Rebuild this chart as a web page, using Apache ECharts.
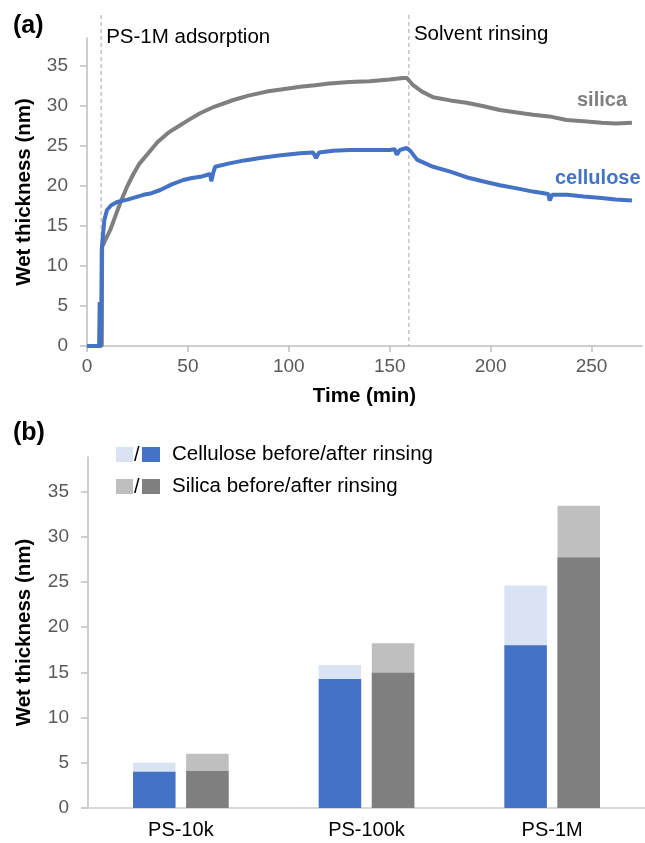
<!DOCTYPE html>
<html>
<head>
<meta charset="utf-8">
<script src="https://cdn.jsdelivr.net/npm/echarts@6/dist/echarts.min.js"></script>
<style>
  html, body { margin: 0; padding: 0; background: #fff; }
  #chart { width: 645px; height: 843px; }
</style>
</head>
<body>
<div id="chart"></div>
<script>
// (a) time trace
const silicaTime = [0, 7.3, 7.5, 9, 11.5, 14, 16.5, 20, 23, 26, 29.7, 35, 40, 43, 50, 56, 63, 72.5, 80, 89, 97, 105.6, 113, 120, 130, 140, 150, 156.6, 158.5, 161.6, 166, 171.5, 180, 188, 196, 204.6, 213, 221, 229, 237.7, 246, 255, 262, 270];
const silicaThk  = [0, 0, 12.4, 13.2, 14.5, 16.2, 17.9, 20.0, 21.5, 22.8, 23.9, 25.5, 26.6, 27.1, 28.2, 29.1, 29.9, 30.75, 31.3, 31.8, 32.1, 32.4, 32.6, 32.8, 33.0, 33.1, 33.3, 33.5, 33.5, 32.6, 31.8, 31.1, 30.7, 30.4, 30.0, 29.5, 29.2, 28.9, 28.7, 28.25, 28.1, 27.9, 27.8, 27.9];

const celluloseTime = [0, 6.0, 6.3, 6.6, 7.0, 7.3, 7.8, 8.6, 9.9, 12, 14.9, 20, 28, 32, 36.3, 42, 47.7, 52, 57, 61, 61.6, 62.5, 63.5, 70, 78, 85.8, 95, 105.6, 112, 113.5, 115, 122, 130, 140, 150, 152.5, 153.5, 155, 158.5, 160.5, 163.5, 171.5, 180, 188, 196, 204.6, 213, 221, 228.5, 229.3, 230.5, 238, 246, 255, 262, 270];
const celluloseThk  = [0, 0, 5.5, 0, 0.5, 12.0, 13.5, 15.75, 17.0, 17.6, 18.0, 18.3, 18.9, 19.1, 19.5, 20.2, 20.75, 21.0, 21.2, 21.5, 20.6, 21.6, 22.4, 22.8, 23.2, 23.5, 23.8, 24.1, 24.2, 23.5, 24.2, 24.4, 24.5, 24.5, 24.5, 24.6, 23.9, 24.5, 24.75, 24.3, 23.3, 22.4, 21.8, 21.1, 20.6, 20.1, 19.7, 19.3, 19.0, 18.2, 18.9, 18.9, 18.7, 18.5, 18.3, 18.2];

// when the phases start (dashed lines)
const adsorptionStart = 7;
const rinsingStart = 159.5;

// (b) bars
const categories = ['PS-10k', 'PS-100k', 'PS-1M'];
const celluloseBefore = [5.0, 15.8, 24.6];
const celluloseAfter = [4.0, 14.25, 18.0];
const silicaBefore = [6.0, 18.2, 33.4];
const silicaAfter = [4.1, 14.95, 27.7];

const FONT = '"Liberation Sans", Arial, sans-serif';
const BLUE = '#4472c4', GREY = '#7f7f7f';

function zip(xs, ys) {
    return xs.map((x, i) => [x, ys[i]]);
}

const chart = echarts.init(document.getElementById('chart'));

const valueLabel = { color: '#595959', fontSize: 19, fontFamily: FONT };
const axisName = { color: '#000', fontSize: 20.5, fontWeight: 'bold', fontFamily: FONT };

// both legends share one layout so their rows line up; the first one only shows the light swatches
const legendBase = {
    top: 444, orient: 'vertical', padding: 0,
    itemWidth: 17, itemHeight: 15, itemGap: 11, icon: 'rect', selectedMode: false,
    formatter: name => name.replace(/ (before|after)$/, ' before/after rinsing')
};
const legendText = { fontSize: 20.5, color: '#000', fontFamily: FONT, padding: [0, 0, 0, 7] };

const option = {
    animation: false,
    textStyle: { fontFamily: FONT },
    grid: [
        { left: 87, top: 38, right: 3, bottom: 497 },
        { left: 88, top: 457, right: -7, bottom: 35 }
    ],
    legend: [
        Object.assign({}, legendBase, {
            data: ['Cellulose before', 'Silica before'], left: 116,
            textStyle: Object.assign({}, legendText, { color: 'rgba(0,0,0,0)' })
        }),
        Object.assign({}, legendBase, {
            data: ['Cellulose after', 'Silica after'], left: 142, itemWidth: 18,
            textStyle: legendText
        })
    ],
    xAxis: [
        {
            gridIndex: 0, type: 'value', min: 0, max: 275, interval: 50,
            name: 'Time (min)', nameLocation: 'middle', nameGap: 40, nameTextStyle: axisName,
            axisLine: { lineStyle: { color: '#bfbfbf', width: 1.5 } },
            axisTick: { show: true, length: 6, lineStyle: { color: '#bfbfbf', width: 1.5 } },
            axisLabel: Object.assign({ margin: 11, showMaxLabel: false }, valueLabel),
            splitLine: { show: false }
        },
        {
            gridIndex: 1, type: 'category', data: categories,
            axisLine: { lineStyle: { color: '#d9d9d9', width: 2 } },
            axisTick: { show: false },
            axisLabel: { color: '#000', fontSize: 20, fontFamily: FONT, margin: 12 }
        },
        { gridIndex: 1, type: 'category', data: categories, show: false }
    ],
    yAxis: [
        {
            gridIndex: 0, type: 'value', min: 0, max: 38.5, interval: 5,
            name: 'Wet thickness (nm)', nameLocation: 'middle', nameGap: 52, nameTextStyle: axisName,
            axisLine: { show: true, lineStyle: { color: '#bfbfbf', width: 1.5 } },
            axisTick: { show: true, length: 7, lineStyle: { color: '#bfbfbf', width: 1.5 } },
            axisLabel: Object.assign({ margin: 19, showMaxLabel: false }, valueLabel),
            splitLine: { show: false }
        },
        {
            gridIndex: 1, type: 'value', min: 0, max: 38.8, interval: 5,
            name: 'Wet thickness (nm)', nameLocation: 'middle', nameGap: 53, nameTextStyle: axisName,
            axisLine: { show: true, lineStyle: { color: '#bfbfbf', width: 1.5 } },
            axisTick: { show: true, length: 7, lineStyle: { color: '#bfbfbf', width: 1.5 } },
            axisLabel: Object.assign({ margin: 19, showMaxLabel: false }, valueLabel),
            splitLine: { show: false }
        }
    ],
    series: [
        {
            name: 'silica', type: 'line', xAxisIndex: 0, yAxisIndex: 0,
            data: zip(silicaTime, silicaThk), showSymbol: false,
            lineStyle: { color: GREY, width: 4 }, itemStyle: { color: GREY }
        },
        {
            name: 'cellulose', type: 'line', xAxisIndex: 0, yAxisIndex: 0,
            data: zip(celluloseTime, celluloseThk), showSymbol: false,
            lineStyle: { color: BLUE, width: 4 }, itemStyle: { color: BLUE }
        },
        // light "before" bars sit behind the dark "after" bars (own hidden axis)
        {
            name: 'Cellulose before', type: 'bar', xAxisIndex: 1, yAxisIndex: 1,
            data: celluloseBefore, barWidth: 42.5, barGap: '25%', itemStyle: { color: '#dae3f3' }
        },
        {
            name: 'Silica before', type: 'bar', xAxisIndex: 1, yAxisIndex: 1,
            data: silicaBefore, barWidth: 42.5, barGap: '25%', itemStyle: { color: '#bfbfbf' }
        },
        {
            name: 'Cellulose after', type: 'bar', xAxisIndex: 2, yAxisIndex: 1,
            data: celluloseAfter, barWidth: 42.5, barGap: '25%', itemStyle: { color: BLUE }
        },
        {
            name: 'Silica after', type: 'bar', xAxisIndex: 2, yAxisIndex: 1,
            data: silicaAfter, barWidth: 42.5, barGap: '25%', itemStyle: { color: GREY }
        }
    ]
};

chart.setOption(option);

// dashed phase markers reach above the plot, so draw them with the axis scale
const x0 = chart.convertToPixel({ xAxisIndex: 0 }, adsorptionStart);
const x1 = chart.convertToPixel({ xAxisIndex: 0 }, rinsingStart);
const yBottom = chart.convertToPixel({ yAxisIndex: 0 }, 0);
const yTop = 15;
const dash = { stroke: '#a6a6a6', lineWidth: 1, lineDash: [4, 3] };
const plain = { fill: '#000', fontSize: 20.5, fontFamily: FONT };
const bold = (text, color, size) => ({ text: text, fill: color, fontSize: size, fontWeight: 'bold', fontFamily: FONT, verticalAlign: 'middle' });

chart.setOption({
    graphic: [
        { type: 'line', shape: { x1: x0, y1: yTop, x2: x0, y2: yBottom }, style: dash, silent: true },
        { type: 'line', shape: { x1: x1, y1: yTop, x2: x1, y2: yBottom }, style: dash, silent: true },
        { type: 'text', x: x0 + 5, y: 37, style: Object.assign({ text: 'PS-1M adsorption', verticalAlign: 'middle' }, plain) },
        { type: 'text', x: x1 + 5, y: 34, style: Object.assign({ text: 'Solvent rinsing', verticalAlign: 'middle' }, plain) },
        { type: 'text', x: 577, y: 100, style: bold('silica', GREY, 20) },
        { type: 'text', x: 555, y: 178, style: bold('cellulose', BLUE, 20) },
        { type: 'text', x: 13, y: 26, style: bold('(a)', '#000', 25) },
        { type: 'text', x: 13, y: 433, style: bold('(b)', '#000', 25) },
        { type: 'text', x: 134, y: 455, style: { text: '/', fill: '#000', fontSize: 20, fontFamily: FONT, verticalAlign: 'middle' } },
        { type: 'text', x: 134, y: 487, style: { text: '/', fill: '#000', fontSize: 20, fontFamily: FONT, verticalAlign: 'middle' } }
    ]
});
</script>
</body>
</html>
